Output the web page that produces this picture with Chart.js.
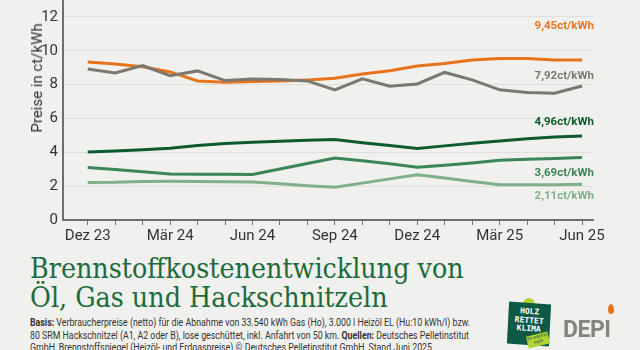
<!DOCTYPE html>
<html>
<head>
<meta charset="utf-8">
<script src="https://cdn.jsdelivr.net/npm/chart.js@4"></script>
<style>
  html, body { margin: 0; padding: 0; }
  body { width: 640px; height: 350px; background: #f0f1ef; position: relative; overflow: hidden;
         font-family: "Roboto", sans-serif; }
  #wrap { position: absolute; left: 0; top: 0; width: 640px; height: 250px; }
  .lbl { position: absolute; font-weight: bold; font-size: 11.5px; text-align: right; right: 46px; }
  #ytitle { position: absolute; left: 37px; top: 78px; transform: translate(-50%, -50%) rotate(-90deg);
            white-space: nowrap; color: #333; font-size: 15px; }
  #title { position: absolute; left: 30px; top: 255px; color: #1d6b3a; font-family: "DejaVu Serif Condensed", "DejaVu Serif", serif;
           font-size: 28.3px; line-height: 28.5px; white-space: nowrap; }
  #foot { position: absolute; left: 30px; top: 317px; color: #333; font-size: 11px; line-height: 12.5px;
          white-space: nowrap; transform-origin: 0 0; transform: scaleX(0.8); }
  #badge { position: absolute; left: 508px; top: 303px; width: 42px; height: 42px; background: #0f5a44;
           transform: skew(-3deg, 4deg); color: #fff; font-family: "DejaVu Sans Mono", monospace; font-weight: bold;
           font-size: 8px; line-height: 8.5px; text-align: center; padding-top: 5px; box-sizing: border-box; }
  #sticker { position: absolute; left: 527px; top: 334px; width: 22px; height: 12px; background: #b5d334; color: #0f5a44;
             font-size: 4.5px; line-height: 5px; text-align: center; transform: rotate(-14deg); }
  #leaf { position: absolute; left: 523px; top: 298px; width: 12px; height: 8px; background: #b5d334; border-radius: 6px 6px 2px 2px; }
  #depi { position: absolute; left: 563px; top: 316px; color: #85857e; font-family: "Roboto", sans-serif; font-weight: bold;
          font-size: 23px; letter-spacing: -0.5px; }
  #flame { position: absolute; left: 608px; top: 304px; width: 6px; height: 10px; background: #e8731d;
           border-radius: 50% 50% 50% 50% / 60% 60% 40% 40%; }
</style>
</head>
<body>
<div id="wrap"><canvas id="c" width="640" height="250"></canvas></div>

<div id="ytitle">Preise in ct/kWh</div>
<div class="lbl" style="top:18px;color:#e8731d">9,45ct/kWh</div>
<div class="lbl" style="top:68px;color:#7b786f">7,92ct/kWh</div>
<div class="lbl" style="top:114px;color:#0d5b2c">4,96ct/kWh</div>
<div class="lbl" style="top:165px;color:#3b8556">3,69ct/kWh</div>
<div class="lbl" style="top:188px;color:#7fae89">2,11ct/kWh</div>

<div id="title">Brennstoffkostenentwicklung von<br>Öl, Gas und Hackschnitzeln</div>
<div id="foot"><b>Basis:</b> Verbraucherpreise (netto) für die Abnahme von 33.540 kWh Gas (Ho), 3.000 l Heizöl EL (Hu:10 kWh/l) bzw.<br>80 SRM Hackschnitzel (A1, A2 oder B), lose geschüttet, inkl. Anfahrt von 50 km. <b>Quellen:</b> Deutsches Pelletinstitut<br>GmbH, Brennstoffspiegel (Heizöl- und Erdgaspreise) © Deutsches Pelletinstitut GmbH, Stand Juni 2025</div>

<div id="leaf"></div>
<div id="badge">HOLZ<br>RETTET<br>KLIMA</div>
<div id="sticker">Es wächst<br>nach</div>
<div id="depi">DEPI</div>
<div id="flame"></div>

<script>
var months = ['Dez 23', 'Jan 24', 'Feb 24', 'Mär 24', 'Apr 24', 'Mai 24', 'Jun 24', 'Jul 24', 'Aug 24', 'Sep 24',
              'Okt 24', 'Nov 24', 'Dez 24', 'Jan 25', 'Feb 25', 'Mär 25', 'Apr 25', 'Mai 25', 'Jun 25'];
var oel = [9.33, 9.22, 9.06, 8.75, 8.22, 8.14, 8.18, 8.22, 8.28, 8.37, 8.63, 8.82, 9.10, 9.25, 9.45, 9.55, 9.55, 9.45, 9.45];
var gas = [8.92, 8.69, 9.12, 8.53, 8.81, 8.24, 8.33, 8.30, 8.22, 7.69, 8.34, 7.90, 8.04, 8.72, 8.28, 7.69, 7.53, 7.49, 7.92];
var hackA = [4.02, 4.08, 4.15, 4.24, 4.40, 4.52, 4.60, 4.66, 4.71, 4.75, 4.57, 4.40, 4.22, 4.38, 4.53, 4.67, 4.80, 4.90, 4.96];
var hackB = [3.10, 2.98, 2.85, 2.72, 2.71, 2.70, 2.69, 3.01, 3.34, 3.66, 3.50, 3.33, 3.12, 3.24, 3.37, 3.53, 3.59, 3.63, 3.69];
var hackC = [2.22, 2.23, 2.28, 2.29, 2.28, 2.26, 2.24, 2.14, 2.03, 1.93, 2.18, 2.43, 2.68, 2.48, 2.28, 2.08, 2.08, 2.09, 2.11];

function pts(arr) {
    return arr.map(function (v, i) { return {x: i, y: v}; });
}
function ds(arr, color) {
    return {data: pts(arr), borderColor: color, borderWidth: 3, pointRadius: 0, tension: 0, fill: false};
}

var axisFont = {family: '"Roboto", sans-serif', size: 15};

new Chart(document.getElementById('c'), {
    type: 'line',
    data: {
        datasets: [
            ds(hackC, '#7fae89'),
            ds(hackB, '#3b8556'),
            ds(hackA, '#0d5b2c'),
            ds(gas, '#7b786f'),
            ds(oel, '#e8731d')
        ]
    },
    options: {
        responsive: false,
        animation: false,
        layout: {padding: {left: 0, right: 47, top: 0, bottom: 0}},
        plugins: {legend: {display: false}, tooltip: {enabled: false}},
        scales: {
            x: {
                type: 'linear',
                min: -0.9,
                max: 18.4,
                afterBuildTicks: function (scale) {    // one tick per month, no extra tick at min/max
                    scale.ticks = months.map(function (m, i) { return {value: i}; });
                },
                afterFit: function (scale) {
                    scale.height = 30;
                    scale.paddingLeft = 0;
                    scale.paddingRight = 0;
                },
                grid: {drawOnChartArea: false, drawTicks: true, tickLength: 5, tickColor: '#6f6f6f', tickWidth: 1},
                border: {color: '#6f6f6f', width: 2},
                ticks: {
                    autoSkip: false,
                    maxRotation: 0,
                    padding: 2,
                    color: '#333',
                    font: axisFont,
                    callback: function (v) { return v % 3 === 0 ? months[v] : ''; }
                }
            },
            y: {
                min: 0,
                max: 13,
                afterFit: function (scale) {
                    scale.width = 63;
                    scale.paddingTop = 0;
                    scale.paddingBottom = 0;
                },
                grid: {color: '#dfe0dc', lineWidth: 1, drawTicks: false},
                border: {color: '#6f6f6f', width: 2},
                ticks: {
                    stepSize: 1,
                    padding: 5,
                    color: '#333',
                    font: axisFont,
                    callback: function (v) { return v % 2 === 0 && v < 13 ? v : ''; }
                }
            }
        }
    }
});
</script>
</body>
</html>
